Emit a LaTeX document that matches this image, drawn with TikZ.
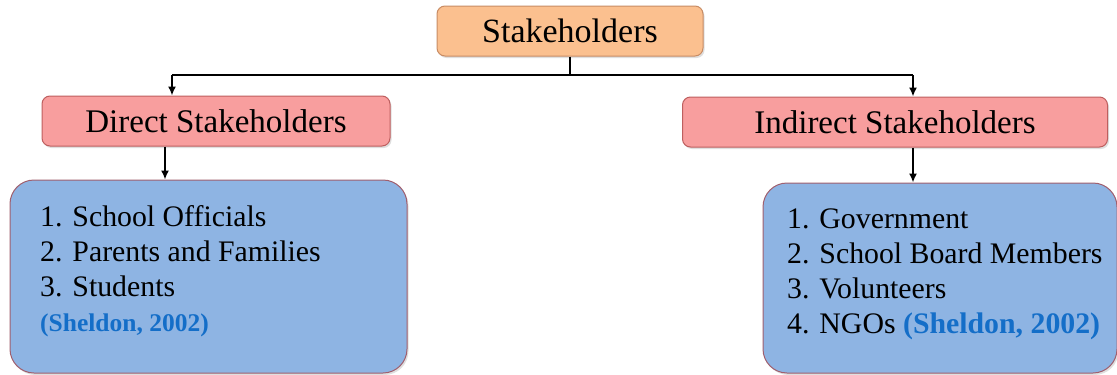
\documentclass[tikz,border=0pt]{standalone}
\usepackage{fontspec}
\setmainfont{Liberation Serif}
\usetikzlibrary{arrows.meta,shadows}
\definecolor{orfill}{RGB}{251,192,143}
\definecolor{ordraw}{RGB}{200,140,100}
\definecolor{pkfill}{RGB}{248,158,158}
\definecolor{pkdraw}{RGB}{190,95,95}
\definecolor{blfill}{RGB}{142,180,227}
\definecolor{bldraw}{RGB}{160,95,110}
\definecolor{cite}{RGB}{20,110,200}
\begin{document}
\begin{tikzpicture}[x=1pt,y=-1pt,
  boxbase/.style={draw,line width=1pt,inner sep=0pt,
    drop shadow={shadow xshift=1.5pt,shadow yshift=-2pt,opacity=0.25}},
  headbox/.style={boxbase,fill=orfill,draw=ordraw,rounded corners=8pt,
    font=\fontsize{34}{38}\selectfont},
  subbox/.style={boxbase,fill=pkfill,draw=pkdraw,rounded corners=8pt,
    font=\fontsize{33}{38}\selectfont},
  listbox/.style={boxbase,fill=blfill,draw=bldraw,rounded corners=24pt},
  listtext/.style={anchor=base west,inner sep=0pt,align=left,
    font=\fontsize{29.8}{35}\selectfont},
  conn/.style={line width=1.6pt,black},
  arr/.style={conn,-{Latex[length=9pt,width=8pt]}}]
\useasboundingbox (0,0) rectangle (1117,375);
\fill[white] (0,0) rectangle (1117,375);
% boxes
\node[headbox,minimum width=266pt,minimum height=50pt] (top) at (570,31) {Stakeholders};
\node[subbox,minimum width=348pt,minimum height=50pt] (direct) at (216,121) {Direct Stakeholders};
\node[subbox,minimum width=425pt,minimum height=50pt] (indirect) at (895,122) {Indirect Stakeholders};
\node[listbox,minimum width=397pt,minimum height=193pt] (lbox) at (208.5,276.5) {};
\node[listbox,minimum width=354pt,minimum height=190pt] (rbox) at (940,278) {};
% list texts (base anchor = baseline of the last line)
\node[listtext] (ltext) at (40,331) {1. School Officials\\2. Parents and Families\\3. Students\\
  {\fontsize{25.5}{35}\selectfont\bfseries\color{cite}(Sheldon, 2002)}};
\node[listtext] (rtext) at (787,333) {1. Government\\2. School Board Members\\3. Volunteers\\
  4. NGOs {\bfseries\color{cite}(Sheldon, 2002)}};
% connectors
\coordinate (jl) at (172,75);
\coordinate (jr) at (913,75);
\coordinate (al) at (165,0);
\coordinate (ar) at (913,0);
\draw[conn] (top.south) -- (top.south |- jl);
\draw[conn] (jl) -- (jr);
\draw[arr] (jl) -- (jl |- direct.north);
\draw[arr] (jr) -- (jr |- indirect.north);
\draw[arr] (al |- direct.south) -- (al |- lbox.north);
\draw[arr] (ar |- indirect.south) -- (ar |- rbox.north);
\end{tikzpicture}
\end{document}
